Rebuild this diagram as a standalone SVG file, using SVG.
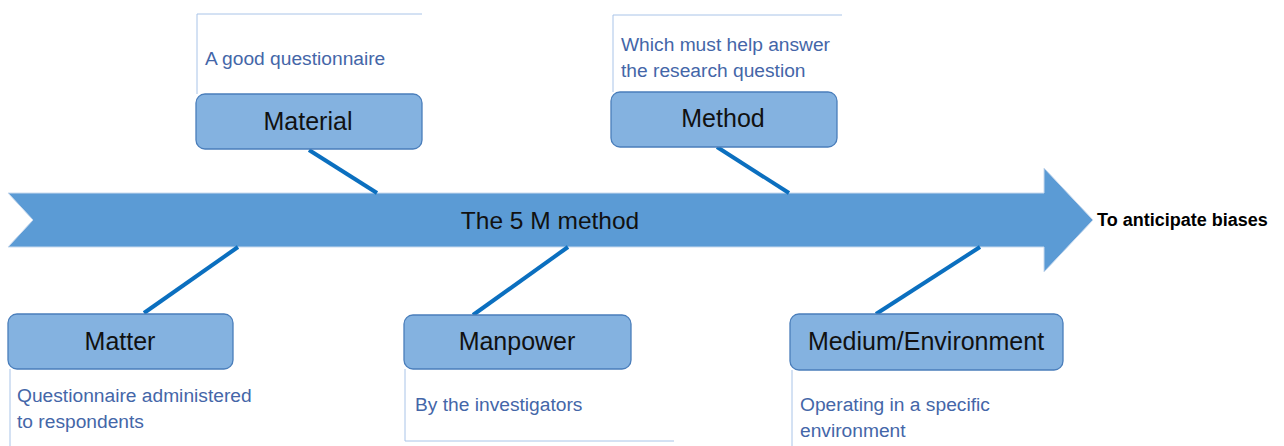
<svg xmlns="http://www.w3.org/2000/svg" width="1284" height="446" viewBox="0 0 1284 446">
<style>
.box{fill:#84B2E0;stroke:#4A7EBB;stroke-width:1.3}
.lbl{font-family:"Liberation Sans",Arial,sans-serif;font-size:25px;fill:#111;text-anchor:middle;dominant-baseline:central}
.note{font-family:"Liberation Sans",Arial,sans-serif;font-size:19.2px;fill:#4466A8}
.frame{fill:none;stroke:#A9C4E8;stroke-width:1}
.conn{stroke:#0B6FBF;stroke-width:4;fill:none}
</style>
<rect width="1284" height="446" fill="#fff"/>
<g id="spine">
<polygon points="8,193 1044,193 1044,168 1093,220 1044,272 1044,247 8,247 33,220" fill="#5B9BD5" stroke="#C9DAEE" stroke-width="1"/>
<text x="550" y="220" class="lbl" style="font-size:24.5px">The 5 M method</text>
</g>
<g id="outcome">
<text x="1097" y="220" style="font-family:'Liberation Sans',Arial,sans-serif;font-size:18px;font-weight:bold;fill:#000;dominant-baseline:central">To anticipate biases</text>
</g>
<g id="connectors">
<line class="conn" x1="309" y1="150" x2="377" y2="193"/>
<line class="conn" x1="717" y1="147" x2="789" y2="193"/>
<line class="conn" x1="238" y1="247" x2="144" y2="313"/>
<line class="conn" x1="568" y1="247" x2="473" y2="315"/>
<line class="conn" x1="980" y1="247" x2="876" y2="314"/>
</g>
<g id="material">
<polyline class="frame" points="422,14 197,14 197,94"/>
<text x="205" y="65" class="note">A good questionnaire</text>
<rect class="box" x="196" y="94" width="226" height="55" rx="9"/>
<text x="308" y="121" class="lbl">Material</text>
</g>
<g id="method">
<polyline class="frame" points="842,15 613,15 613,92"/>
<text x="621" y="51" class="note">Which must help answer</text>
<text x="621" y="77" class="note">the research question</text>
<rect class="box" x="611" y="92" width="226" height="55" rx="9"/>
<text x="723" y="118" class="lbl">Method</text>
</g>
<g id="matter">
<polyline class="frame" points="10,369 10,446"/>
<rect class="box" x="8" y="314" width="225" height="55" rx="9"/>
<text x="120" y="341" class="lbl">Matter</text>
<text x="17" y="402" class="note">Questionnaire administered</text>
<text x="17" y="428" class="note">to respondents</text>
</g>
<g id="manpower">
<polyline class="frame" points="405,369 405,441 674,441"/>
<rect class="box" x="404" y="315" width="227" height="54" rx="9"/>
<text x="517" y="341" class="lbl">Manpower</text>
<text x="415" y="411" class="note">By the investigators</text>
</g>
<g id="medium">
<polyline class="frame" points="792,370 792,446"/>
<rect class="box" x="790" y="314" width="273" height="56" rx="9"/>
<text x="926" y="341" class="lbl">Medium/Environment</text>
<text x="800" y="411" class="note">Operating in a specific</text>
<text x="800" y="437" class="note">environment</text>
</g>
</svg>
